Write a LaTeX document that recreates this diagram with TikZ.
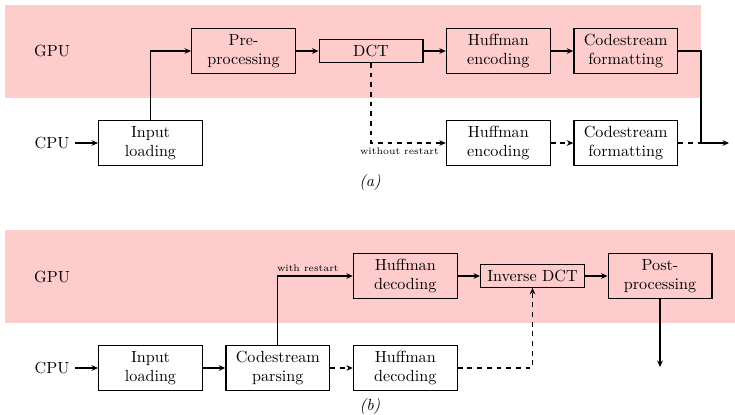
\documentclass[tikz,border=0pt]{standalone}
\usetikzlibrary{arrows.meta}
\definecolor{gpubg}{RGB}{255,204,204}
\begin{document}
\begin{tikzpicture}[x=0.62pt,y=-0.62pt,
 box/.style={draw, thick, minimum width=64.3pt, minimum height=27.9pt, align=center, inner sep=1pt},
 flat/.style={draw, thick, minimum width=64.3pt, minimum height=13.9pt, inner sep=1pt},
 conn/.style={thick,-{Stealth[length=4pt,width=3.5pt]}},
 dconn/.style={conn, dashed},
 lbl/.style={font=\fontsize{6}{7}\selectfont, inner sep=2.5pt}]
\useasboundingbox (0,0) rectangle (735,414);
\fill[gpubg] (5,5) rectangle (701,98);
\fill[gpubg] (5,230) rectangle (735,323);
% (a)
\node (gpuA) at (52,51) {GPU};
\node (cpuA) at (52,143) {CPU};
\node[box] (inA) at (150.5,143) {Input\\loading};
\node[box] (pre) at (243.5,51) {Pre-\\processing};
\node[flat] (dct) at (371,51) {DCT};
\node[box] (hegpu) at (498.3,51) {Huffman\\encoding};
\node[box] (cfgpu) at (625.7,51) {Codestream\\formatting};
\node[box] (hecpu) at (498.3,143) {Huffman\\encoding};
\node[box] (cfcpu) at (625.7,143) {Codestream\\formatting};
\coordinate (joinA) at (701,143);
\coordinate (outA) at (729,143);
\draw[conn] (cpuA) -- (inA);
\draw[conn] (inA.north) |- (pre.west);
\draw[conn] (pre) -- (dct);
\draw[conn] (dct) -- (hegpu);
\draw[conn] (hegpu) -- (cfgpu);
\draw[dconn] (dct.south) |- node[lbl, pos=0.69, below] {without restart} (hecpu.west);
\draw[dconn] (hecpu) -- (cfcpu);
\draw[thick, dashed] (cfcpu.east) -- (joinA);
\draw[thick] (cfgpu.east) -| (joinA);
\draw[conn] (joinA) -- (outA);
\node (capA) at (370,182) {\textit{(a)}};
% (b)
\node (gpuB) at (52,277) {GPU};
\node (cpuB) at (52,368) {CPU};
\node[box] (inB) at (150.5,368) {Input\\loading};
\node[box] (cp) at (277.8,368) {Codestream\\parsing};
\node[box] (hdcpu) at (405.3,368) {Huffman\\decoding};
\node[box] (hdgpu) at (405.3,276) {Huffman\\decoding};
\node[flat] (idct) at (532.5,276) {Inverse DCT};
\node[box] (post) at (660,276) {Post-\\processing};
\coordinate (outB) at (660,367);
\draw[conn] (cpuB) -- (inB);
\draw[conn] (inB) -- (cp);
\draw[dconn] (cp) -- (hdcpu);
\draw[conn] (cp.north) |- node[lbl, pos=0.7, above] {with restart} (hdgpu.west);
\draw[conn] (hdgpu) -- (idct);
\draw[conn] (idct) -- (post);
\draw[dconn] (hdcpu.east) -| (idct.south);
\draw[conn] (post.south) -- (outB);
\node (capB) at (370,406.5) {\textit{(b)}};
\end{tikzpicture}
\end{document}
